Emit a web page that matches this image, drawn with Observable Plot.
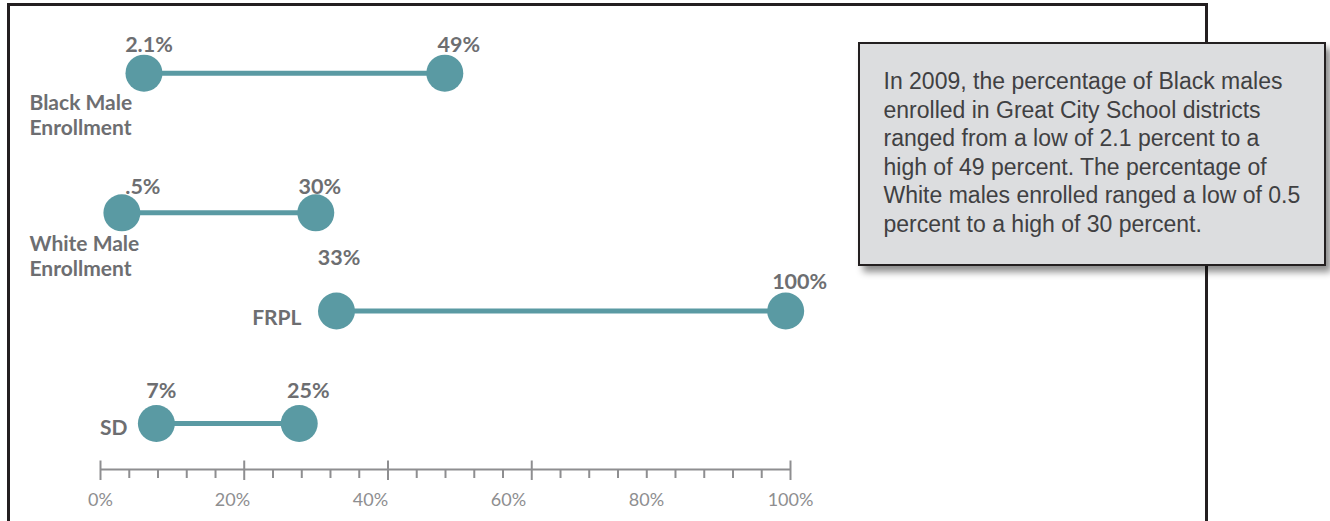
<!DOCTYPE html>
<html>
<head>
<meta charset="utf-8">
<script src="https://cdn.jsdelivr.net/npm/d3@7"></script>
<script src="https://cdn.jsdelivr.net/npm/@observablehq/plot@0.6"></script>
<style>
  html, body { margin: 0; padding: 0; background: #fff; width: 1330px; height: 521px; overflow: hidden; }
  body { position: relative; }
  #frame { position: absolute; left: 7px; top: 3px; width: 1195px; height: 600px; border: 3px solid #231f20; border-bottom: none; }
  #chart { position: absolute; left: 0; top: 0; }
  #note {
    position: absolute; left: 858px; top: 42px; width: 468px; height: 224px; box-sizing: border-box;
    background: #dcdddf; border: 2.5px solid #231f20; box-shadow: 5px 6px 7px rgba(0,0,0,0.45);
    padding: 23px 0 0 23.5px; white-space: nowrap;
    font-family: "Liberation Sans", Arial, sans-serif; font-size: 23px; line-height: 28.5px; color: #404042;
  }
</style>
</head>
<body>
<div id="frame"></div>
<div id="chart"></div>
<div id="note">In 2009, the percentage of Black males<br>enrolled in Great City School districts<br>ranged from a low of 2.1 percent to a<br>high of 49 percent. The percentage of<br>White males enrolled ranged a low of 0.5<br>percent to a high of 30 percent.</div>
<script>
// ---- data ----
const categories = ["Black Male\nEnrollment", "White Male\nEnrollment", "FRPL", "SD"];
const lowValues  = [6.3, 3.1, 34.2, 8.1];
const highValues = [49.9, 31.2, 99.3, 28.8];
const lowLabels  = ["2.1%", ".5%", "33%", "7%"];
const highLabels = ["49%", "30%", "100%", "25%"];
const tickLabelValues = [0, 20, 40, 60, 80, 100];
const tickLabels = ["0%", "20%", "40%", "60%", "80%", "100%"];
const majorTicks = [0, 20.83, 41.67, 62.5, 100];
const minorTicks = [4.17, 8.33, 12.5, 16.67, 25, 29.17, 33.33, 37.5, 45.83, 50, 54.17, 58.33,
                    66.67, 70.83, 75, 79.17, 83.33, 87.5, 91.67, 95.83];

// ---- layout (pixels) ----
const rowY = [72.7, 212.3, 310.5, 423];
const lowLabelDx  = [5, 21, 2.5, 5];
const lowLabelDy  = [-27.7, -25.7, -53.2, -32.4];
const highLabelDx = [14, 4, 14, 9];
const highLabelDy = [-27.7, -25.7, -28.9, -32.4];
const catLayout = [
  {at: "zero", anchor: "start", dx: -71, dy: 41},
  {at: "zero", anchor: "start", dx: -71, dy: 43},
  {at: "low",  anchor: "end",   dx: -35, dy: 5.8},
  {at: "low",  anchor: "end",   dx: -29, dy: 3.6}
];
const tickLabelDx = [0, -6, -6, -6, -6, 0];
const axisY = 469;

const teal = "#5a9aa3";
const labelGray = "#6d6e71";
const axisGray = "#8e8e90";
const boldFont = "Lato, 'Open Sans', sans-serif";

const rows = categories.map((c, i) => ({c, i, lo: lowValues[i], hi: highValues[i], y: rowY[i]}));

const marks = [];
// axis line and ticks
marks.push(Plot.ruleY([axisY], {x1: 0, x2: 100, stroke: axisGray, strokeWidth: 2}));
marks.push(Plot.ruleX(majorTicks, {x: d => d, y1: axisY - 8.5, y2: axisY + 11, stroke: axisGray, strokeWidth: 2}));
marks.push(Plot.ruleX(minorTicks, {x: d => d, y1: axisY, y2: axisY + 9, stroke: axisGray, strokeWidth: 2}));
tickLabelValues.forEach((v, i) => {
  marks.push(Plot.text([v], {x: d => d, y: () => 500, text: () => tickLabels[i], dx: tickLabelDx[i],
    fill: axisGray, fontSize: 18, fontFamily: boldFont, fontWeight: 400}));
});
// dumbbells
marks.push(Plot.link(rows, {x1: "lo", x2: "hi", y1: "y", y2: "y", stroke: teal, strokeWidth: 5}));
marks.push(Plot.dot(rows, {x: "lo", y: "y", r: 18.5, fill: teal}));
marks.push(Plot.dot(rows, {x: "hi", y: "y", r: 18.5, fill: teal}));
// value labels and category labels
rows.forEach((r, i) => {
  marks.push(Plot.text([r], {x: "lo", y: "y", text: () => lowLabels[i], dx: lowLabelDx[i], dy: lowLabelDy[i],
    fill: labelGray, fontSize: 21.5, fontWeight: 700, fontFamily: boldFont}));
  marks.push(Plot.text([r], {x: "hi", y: "y", text: () => highLabels[i], dx: highLabelDx[i], dy: highLabelDy[i],
    fill: labelGray, fontSize: 21.5, fontWeight: 700, fontFamily: boldFont}));
  const L = catLayout[i];
  marks.push(Plot.text([r], {x: L.at === "zero" ? () => 0 : "lo", y: "y", text: "c",
    textAnchor: L.anchor, dx: L.dx, dy: L.dy, lineHeight: 1.2,
    fill: labelGray, fontSize: 21, fontWeight: 700, fontFamily: boldFont}));
});

const chart = Plot.plot({
  width: 1330,
  height: 521,
  marginLeft: 100,
  marginRight: 540,
  marginTop: 0,
  marginBottom: 0,
  x: {domain: [0, 100], axis: null},
  y: {type: "identity", axis: null},
  style: {background: "transparent", overflow: "visible"},
  marks
});
document.getElementById("chart").appendChild(chart);
</script>
</body>
</html>
